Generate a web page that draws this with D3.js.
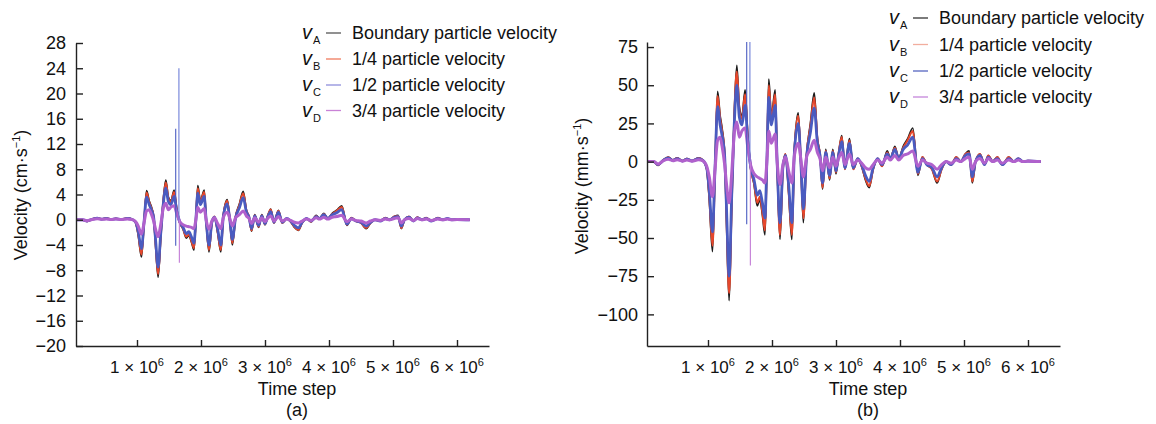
<!DOCTYPE html>
<html>
<head>
<meta charset="utf-8">
<script src="https://cdn.jsdelivr.net/npm/d3@7"></script>
<style>
  body { margin: 0; background: #fff; }
  svg { display: block; font-family: "Liberation Sans", Arial, sans-serif; }
</style>
</head>
<body>
<svg id="chart" width="1156" height="424"></svg>
<script>
// time step, in units of 10^6
const timeSteps = [0.05, 0.15, 0.22, 0.30, 0.38, 0.45, 0.52, 0.60, 0.67, 0.75, 0.85, 0.92,
  0.98, 1.02, 1.07, 1.11, 1.15, 1.19, 1.22, 1.26, 1.29, 1.33, 1.37, 1.41, 1.45, 1.49, 1.53, 1.58,
  1.62, 1.67, 1.72, 1.77, 1.81, 1.85, 1.89, 1.92, 1.95, 1.99, 2.05, 2.08, 2.125, 2.17, 2.21, 2.26,
  2.31, 2.35, 2.41, 2.45, 2.49, 2.54, 2.60, 2.66, 2.71, 2.75, 2.79, 2.84, 2.90, 2.95, 3.00, 3.04,
  3.09, 3.14, 3.21, 3.27, 3.34, 3.40, 3.46, 3.52, 3.58, 3.65, 3.72, 3.80, 3.85, 3.92, 3.98, 4.05,
  4.12, 4.20, 4.28, 4.35, 4.42, 4.50, 4.58, 4.65, 4.72, 4.80, 4.88, 4.95, 5.02, 5.08, 5.13, 5.18,
  5.25, 5.32, 5.38, 5.45, 5.52, 5.60, 5.70, 5.78, 5.85, 5.92, 6.00, 6.20];

// velocities in mm/s (panel (a) shows them in cm/s)
const vA = [0, 0, -2.5, 1, 3, 1, 2.5, 0.5, 2, 0.5, 2.5, 1,
  -5, -25, -59, -5, 46, 30, 22, 5, -40, -91, -30, 30, 63, 36, 30, 47,
  18, -5, -15, -29, -25, -35, -48, 0, 54, 30, 47, 0, -51, -5, 5, -20,
  -51, 8, 32, 0, -40, 4, 25, 45, 15, 5, -18, 8, -12, 8, -8, 5,
  17, -5, 15, -5, 2, -3, -12, -17, -5, 2, -3, 7, 2, 10, 2, 10,
  15, 22, -9, 3, -2, -5, -14, -5, 0, -2, 3, 0, 5, 7, -14, 0,
  5, -2, 4, 0, 3, -2, 3, 0, 2, 0, 0.5, 0];
const vB = [0, 0, -2.3, 1, 2.8, 1, 2.3, 0.5, 1.9, 0.5, 2.3, 1,
  -4.6, -23, -55, -5, 43, 28, 20, 5, -37, -86, -28, 28, 59, 34, 28, 44,
  17, -5, -14, -27, -23, -33, -45, 0, 50, 28, 44, 0, -48, -5, 5, -19,
  -48, 7, 30, 0, -37, 4, 23, 42, 14, 5, -17, 7, -11, 7, -7, 5,
  16, -5, 14, -5, 2, -3, -11, -16, -5, 2, -3, 6, 2, 9, 2, 9,
  14, 20, -8, 3, -2, -5, -13, -5, 0, -2, 3, 0, 5, 6, -13, 0,
  5, -2, 4, 0, 3, -2, 3, 0, 2, 0, 0.5, 0];
const vC = [0, 0, -2, 0.8, 2.4, 0.8, 2, 0.4, 1.6, 0.4, 2, 0.8,
  -4, -19, -46, -4, 36, 24, 17, 4, -31, -75, -23, 24, 50, 29, 24, 37,
  14, -4, -12, -22, -19, -27, -37, 0, 42, 24, 37, 0, -40, -4, 4, -15,
  -40, 6, 25, 0, -31, 3, 19, 35, 12, 4, -14, 6, -9, 6, -6, 4,
  13, -4, 12, -4, 2, -2, -9, -13, -4, 2, -2, 5, 2, 8, 2, 8,
  11, 16, -7, 2, -2, -4, -10, -4, 0, -2, 2, 0, 4, 5, -10, 0,
  4, -2, 3, 0, 2, -2, 2, 0, 2, 0, 0.4, 0];
const vD = [0, 0, -1.5, 0.5, 1.5, 0.6, 1.2, 0.3, 1, 0.3, 1.2, 0.5,
  -3, -10, -23, -5, 14, 16, 10, -2, -15, -27, -8, 18, 26, 16, 20, 22,
  10, -3, -8, -10, -11, -12, -14, 0, 20, 12, 18, 0, -15, -2, 3, -6,
  -14, 4, 12, 2, -10, 3, 8, 14, 6, 2, -6, 3, -4, 3, -3, 2,
  6, -2, 5, -2, 1, -1, -4, -5, -2, 1, -1, 3, 1, 4, 1, 4,
  5, 7, -3, 1, -1, -2, -5, -2, 0, -1, 1, 0, 2, 3, -5, 0,
  2, -1, 2, 0, 1, -1, 1, 0, 1, 0, 0.3, 0];

// short numerical spikes near t = 1.6 x 10^6 (mm/s)
const spikeSeries = ["C", "C", "D"];
const spikeTimes = [1.605, 1.655, 1.662];
const spikeLow = [-41, -2, -68];
const spikeHigh = [144, 240, 0];

const seriesKeys = ["A", "B", "C", "D"];
const seriesLabels = ["Boundary particle velocity", "1/4 particle velocity",
  "1/2 particle velocity", "3/4 particle velocity"];
const xTicks = [1, 2, 3, 4, 5, 6];
const yTicksA = [-20, -16, -12, -8, -4, 0, 4, 8, 12, 16, 20, 24, 28];
const yTicksB = [-100, -75, -50, -25, 0, 25, 50, 75];

const lineColor = { A: "#1a1a1a", B: "#e5472c", C: "#4a5bc0", D: "#b061cc" };
const lineWidth = { A: 1.7, B: 2.1, C: 2.8, D: 3 };
const spikeColor = ["#4b5cc2", "#6f7fd8", "#c27ad6"];
const ink = "#111";

const values = { A: vA, B: vB, C: vC, D: vD };
const svg = d3.select("#chart");
const fmt = d => String(d).replace("-", "−");

function panel({ id, left, right, top, bottom, yDomain, yTicks, unitDiv, unitText,
                 titleX, titleY, letter, legendX, legendRows, legendColors, tickPad }) {
  const x = d3.scaleLinear().domain([0.047, 6.5]).range([left, right]);
  const y = d3.scaleLinear().domain(yDomain).range([bottom, top]);
  const g = svg.append("g");

  g.append("clipPath").attr("id", "clip" + id)
    .append("rect").attr("x", left).attr("y", top)
    .attr("width", right - left).attr("height", bottom - top);

  const plot = g.append("g").attr("clip-path", `url(#clip${id})`);
  const line = d3.line()
    .x(d => x(d.t))
    .y(d => y(d.v / unitDiv))
    .curve(d3.curveMonotoneX);

  seriesKeys.forEach(k => {
    const pts = timeSteps.map((t, i) => ({ t, v: values[k][i] }));
    plot.append("path")
      .attr("d", line(pts))
      .attr("fill", "none")
      .attr("stroke", lineColor[k])
      .attr("stroke-width", lineWidth[k])
      .attr("stroke-linejoin", "round");
  });

  plot.selectAll("line.spike")
    .data(spikeTimes)
    .join("line")
    .attr("class", "spike")
    .attr("x1", d => x(d)).attr("x2", d => x(d))
    .attr("y1", (d, i) => y(spikeLow[i] / unitDiv))
    .attr("y2", (d, i) => y(spikeHigh[i] / unitDiv))
    .attr("stroke", (d, i) => spikeColor[i])
    .attr("stroke-width", 1.1);

  // axes, ticks pointing inwards
  const yAxis = g.append("g").attr("transform", `translate(${left},0)`)
    .call(d3.axisLeft(y).tickValues(yTicks).tickSizeInner(-7).tickSizeOuter(0)
      .tickPadding(tickPad).tickFormat(fmt));
  yAxis.selectAll("text").attr("font-size", 18).attr("fill", ink)
    .attr("font-family", "'Liberation Sans', Arial, sans-serif");

  const xAxis = g.append("g").attr("transform", `translate(0,${bottom})`)
    .call(d3.axisBottom(x).tickValues(xTicks).tickSizeInner(-6).tickSizeOuter(0));
  xAxis.selectAll("text").remove();
  g.selectAll(".domain, .tick line").attr("stroke", "#222").attr("stroke-width", 1.4);

  const xl = g.append("g").selectAll("text")
    .data(xTicks).join("text")
    .attr("x", d => x(d)).attr("y", bottom + 27)
    .attr("text-anchor", "middle").attr("font-size", 17).attr("fill", ink);
  xl.append("tspan").text(d => d + " × 10");
  xl.append("tspan").attr("font-size", 11).attr("dy", -7).text("6");

  const mid = x(3.5);
  g.append("text").attr("x", mid).attr("y", bottom + 49)
    .attr("text-anchor", "middle").attr("font-size", 18).attr("fill", ink)
    .text("Time step");
  g.append("text").attr("x", mid).attr("y", bottom + 70)
    .attr("text-anchor", "middle").attr("font-size", 18).attr("fill", ink)
    .text(`(${letter})`);

  const yt = g.append("text")
    .attr("transform", `translate(${titleX},${titleY}) rotate(-90)`)
    .attr("text-anchor", "middle").attr("font-size", 18).attr("fill", ink);
  yt.append("tspan").text(`Velocity (${unitText}·s`);
  yt.append("tspan").attr("font-size", 11).attr("dy", -7).text("−1");
  yt.append("tspan").attr("dy", 7).text(")");

  // legend
  const leg = g.append("g").selectAll("g")
    .data(seriesKeys).join("g")
    .attr("transform", (d, i) => `translate(${legendX},${legendRows[i]})`);
  const vt = leg.append("text").attr("font-size", 20).attr("fill", ink);
  vt.append("tspan").attr("font-style", "italic").text("v");
  vt.append("tspan").attr("font-size", 11).attr("dy", 5).attr("dx", 1).text(d => d);
  leg.append("line")
    .attr("x1", 24).attr("x2", 39).attr("y1", -6).attr("y2", -6)
    .attr("stroke", (d, i) => legendColors[i]).attr("stroke-width", 1.3);
  leg.append("text").attr("x", 50).attr("font-size", 18).attr("fill", ink)
    .text((d, i) => seriesLabels[i]);
}

panel({
  id: "a", left: 76, right: 489, top: 43, bottom: 346,
  yDomain: [-20, 28], yTicks: yTicksA, unitDiv: 10, unitText: "cm",
  titleX: 27, titleY: 195, letter: "a", tickPad: 10,
  legendX: 302, legendRows: [39, 65, 91, 116.5],
  legendColors: ["#555", "#f07a5e", "#8f8fdc", "#c982d6"]
});

panel({
  id: "b", left: 647, right: 1060, top: 42, bottom: 346,
  yDomain: [-120.7, 78.3], yTicks: yTicksB, unitDiv: 1, unitText: "mm",
  titleX: 588, titleY: 186, letter: "b", tickPad: 9,
  legendX: 889, legendRows: [24, 50.5, 77, 103],
  legendColors: ["#333", "#f2ae9e", "#5565c0", "#c586da"]
});
</script>
</body>
</html>
